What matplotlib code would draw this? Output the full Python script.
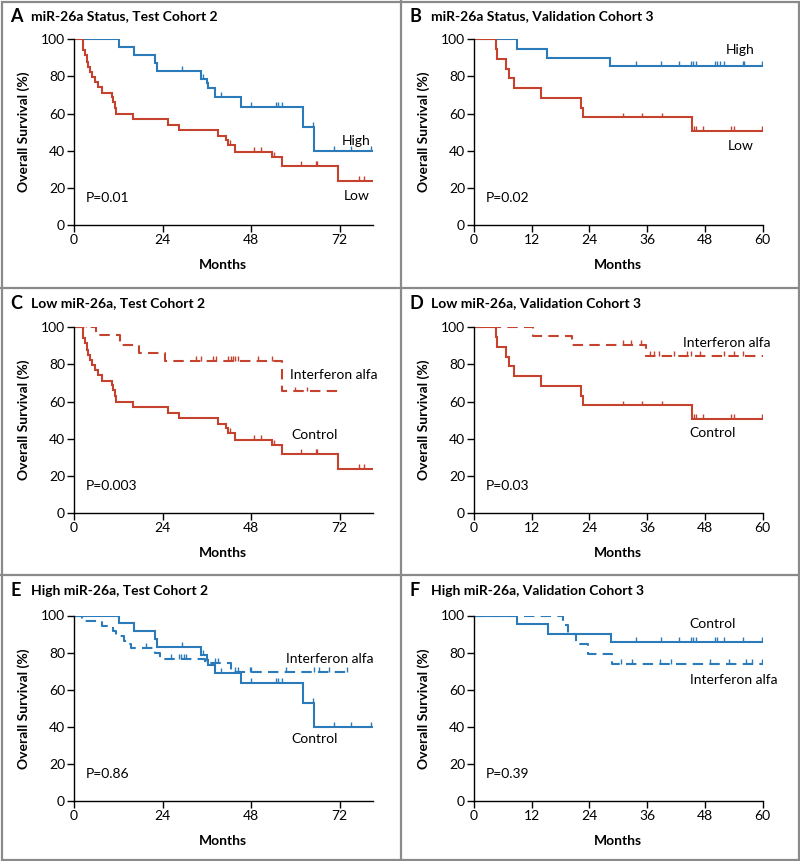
import numpy as np
import matplotlib
matplotlib.use("Agg")
import matplotlib.pyplot as plt
from matplotlib.lines import Line2D
from matplotlib.patches import Rectangle

plt.rcParams['font.family'] = ['Lato', 'DejaVu Sans']

BLUE = "#2b7bba"
RED = "#c4422e"

# --- Test cohort 2 (months 0-81) ---
t2_high_t = [0, 12.1, 16.4, 22.0, 22.6, 34.5, 36.0, 36.3, 38.3, 45.4, 62.0, 65.2]
t2_high_s = [100, 95.7, 91.4, 87.4, 83.1, 78.8, 76.3, 73.6, 69.1, 63.7, 53.0, 39.9]
t2_high_c = [29.4, 34.9, 39.9, 47.9, 54.8, 55.4, 56.3, 64.7, 70.5, 75.0, 80.5]
t2_high_end = 81

t2_low_t = [0, 2.5, 3.0, 3.5, 3.9, 4.4, 5.0, 5.7, 6.5, 7.6, 10.3, 10.6, 11.0, 11.5,
            16.0, 25.5, 28.5, 39.0, 41.3, 41.8, 43.6, 53.8, 56.3, 71.7]
t2_low_s = [100, 94.3, 91.6, 88.0, 85.3, 82.6, 79.9, 77.2, 74.5, 71.3, 69.1, 66.4, 62.8, 59.8,
            56.9, 53.9, 51.2, 47.9, 45.8, 43.1, 39.5, 36.8, 31.8, 23.9]
t2_low_c = [42.2, 48.9, 50.7, 54.2, 61.6, 65.5, 65.9, 77.4, 78.7]
t2_low_end = 81

t2_lowifn_t = [0, 5.9, 12.4, 17.6, 24.6, 56.5]
t2_lowifn_s = [100, 96.0, 90.7, 86.2, 82.0, 65.5]
t2_lowifn_c = [3.3, 33.1, 34.5, 37.6, 38.6, 41.8, 42.7, 43.2, 43.6, 44.5, 50.0, 53.6, 60.0, 63.2]
t2_lowifn_end = 71.7

t2_highifn_t = [0, 2.1, 7.6, 10.5, 11.5, 13.5, 14.9, 15.5, 21.9, 23.3, 35.4, 42.5]
t2_highifn_s = [100, 97.3, 94.4, 91.4, 89.0, 86.0, 84.7, 82.4, 79.7, 76.5, 74.5, 69.8]
t2_highifn_c = [19.4, 26.2, 28.5, 29.0, 29.7, 30.4, 36.1, 38.3, 39.0, 43.6, 44.5, 47.7, 48.1,
                57.4, 65.0, 66.4, 69.1, 74.1]
t2_highifn_end = 74.1

# --- Validation cohort 3 (months 0-60) ---
v3_high_t = [0, 8.9, 15.1, 28.3]
v3_high_s = [100, 95.0, 90.1, 85.6]
v3_high_c = [33.7, 38.8, 42.6, 45.1, 45.6, 46.2, 50.1, 50.5, 51.2, 51.9, 55.9, 56.2, 59.8]
v3_high_end = 60

v3_low_t = [0, 4.5, 4.7, 6.6, 7.3, 8.4, 13.9, 22.3, 22.6, 45.4]
v3_low_s = [100, 94.7, 89.5, 84.2, 78.9, 73.7, 68.4, 63.2, 57.9, 50.6]
v3_low_c = [30.9, 34.9, 39.0, 45.8, 46.2, 47.6, 53.4, 54.0, 59.8]
v3_low_end = 60

v3_lowifn_t = [0, 12.2, 20.3, 35.7]
v3_lowifn_s = [100, 95.2, 90.3, 84.4]
v3_lowifn_c = [30.9, 32.7, 34.7, 36.5, 37.4, 38.5, 41.5, 44.3, 45.0, 47.0, 52.0, 54.0, 56.0]
v3_lowifn_end = 60

v3_ctrl_t = [0, 8.9, 15.3, 28.4]
v3_ctrl_s = [100, 95.3, 90.3, 85.6]
v3_ctrl_c = [33.7, 38.8, 42.6, 45.1, 45.6, 46.2, 50.1, 50.5, 51.9, 55.9, 59.8]
v3_ctrl_end = 60

v3_highifn_t = [0, 18.6, 19.6, 21.2, 23.6, 28.6]
v3_highifn_s = [100, 95.0, 90.0, 84.4, 79.4, 73.8]
v3_highifn_c = [30.6, 32.8, 38.6, 40.9, 49.1, 52.9, 56.6, 57.8, 59.8]
v3_highifn_end = 60

titles = ["miR-26a Status, Test Cohort 2", "miR-26a Status, Validation Cohort 3",
          "Low miR-26a, Test Cohort 2", "Low miR-26a, Validation Cohort 3",
          "High miR-26a, Test Cohort 2", "High miR-26a, Validation Cohort 3"]
letters = ["A", "B", "C", "D", "E", "F"]
pvals = ["P=0.01", "P=0.02", "P=0.003", "P=0.03", "P=0.86", "P=0.39"]

DASH = (0, (5, 3))


def km(ax, t, s, end, cens, color, ls="-"):
    x = list(t) + [end]
    y = list(s) + [s[-1]]
    ax.step(x, y, where="post", color=color, lw=1.5, ls=ls, solid_joinstyle="miter")
    idx = np.searchsorted(t, cens, side="right") - 1
    cy = np.array(s)[idx]
    ax.vlines(cens, cy, cy + 2.6, color=color, lw=1.0)


fig = plt.figure(figsize=(8, 8.61), dpi=100)
W, H = 800, 861
lefts = [74, 474]
tops = [39.3, 327.3, 615.5]
widths = [298.7, 288.7]
ah = 185.7

axes = []
for r in range(3):
    for c in range(2):
        ax = fig.add_axes([lefts[c] / W, 1 - (tops[r] + ah) / H, widths[c] / W, ah / H])
        axes.append(ax)

specs = [
    [(t2_high_t, t2_high_s, t2_high_end, t2_high_c, BLUE, "-"),
     (t2_low_t, t2_low_s, t2_low_end, t2_low_c, RED, "-")],
    [(v3_high_t, v3_high_s, v3_high_end, v3_high_c, BLUE, "-"),
     (v3_low_t, v3_low_s, v3_low_end, v3_low_c, RED, "-")],
    [(t2_low_t, t2_low_s, t2_low_end, t2_low_c, RED, "-"),
     (t2_lowifn_t, t2_lowifn_s, t2_lowifn_end, t2_lowifn_c, RED, DASH)],
    [(v3_low_t, v3_low_s, v3_low_end, v3_low_c, RED, "-"),
     (v3_lowifn_t, v3_lowifn_s, v3_lowifn_end, v3_lowifn_c, RED, DASH)],
    [(t2_high_t, t2_high_s, t2_high_end, t2_high_c, BLUE, "-"),
     (t2_highifn_t, t2_highifn_s, t2_highifn_end, t2_highifn_c, BLUE, DASH)],
    [(v3_ctrl_t, v3_ctrl_s, v3_ctrl_end, v3_ctrl_c, BLUE, "-"),
     (v3_highifn_t, v3_highifn_s, v3_highifn_end, v3_highifn_c, BLUE, DASH)],
]

labels = [
    [("High", 72.5, 45.2), ("Low", 73.2, 15.6)],
    [("High", 52.3, 94.2), ("Low", 52.8, 42.7)],
    [("Interferon alfa", 58.6, 74.5), ("Control", 59.0, 41.8)],
    [("Interferon alfa", 43.5, 91.6), ("Control", 44.7, 43.1)],
    [("Interferon alfa", 57.6, 76.5), ("Control", 59.0, 33.4)],
    [("Control", 44.7, 95.5), ("Interferon alfa", 44.8, 65.4)],
]

for i, ax in enumerate(axes):
    for sp in specs[i]:
        km(ax, *sp)
    test = (i % 2 == 0)
    ax.set_xlim(0, 81 if test else 60)
    ax.set_ylim(0, 100)
    ax.set_xticks([0, 24, 48, 72] if test else [0, 12, 24, 36, 48, 60])
    ax.set_yticks([0, 20, 40, 60, 80, 100])
    for side in ["top", "right"]:
        ax.spines[side].set_visible(False)
    for side in ["left", "bottom"]:
        ax.spines[side].set_linewidth(1.0)
    ax.tick_params(length=5, width=1.0, labelsize=10, pad=1.5)
    ax.set_xlabel("Months", fontsize=10, fontweight="bold", labelpad=9)
    ax.set_ylabel("Overall Survival (%)", fontsize=10, fontweight="bold", labelpad=8)
    for txt, x, y in labels[i]:
        ax.text(x, y, txt, fontsize=10, va="center", ha="left")
    ax.text(0.04, 0.144, pvals[i], transform=ax.transAxes, fontsize=10, va="center")
    ax.patch.set_alpha(0)

    col, row = i % 2, i // 2
    x0 = 10 if col == 0 else 410
    y0 = 16 + 287.5 * row
    fig.text(x0 / W, 1 - y0 / H, letters[i], fontsize=13, fontweight="bold", va="center")
    fig.text((x0 + 21) / W, 1 - y0 / H, titles[i], fontsize=10, fontweight="bold", va="center")

# panel frames
gray = "#8a8a8a"
fig.add_artist(Rectangle((1.5 / W, 1.5 / H), 1 - 3 / W, 1 - 3 / H, transform=fig.transFigure,
                         fill=False, ec=gray, lw=1.6))
fig.add_artist(Line2D([400.5 / W, 400.5 / W], [0, 1], transform=fig.transFigure, color=gray, lw=1.6))
for yy in [288, 575]:
    fig.add_artist(Line2D([0, 1], [1 - yy / H, 1 - yy / H], transform=fig.transFigure, color=gray, lw=1.6))

fig.savefig("out.png", dpi=100)
